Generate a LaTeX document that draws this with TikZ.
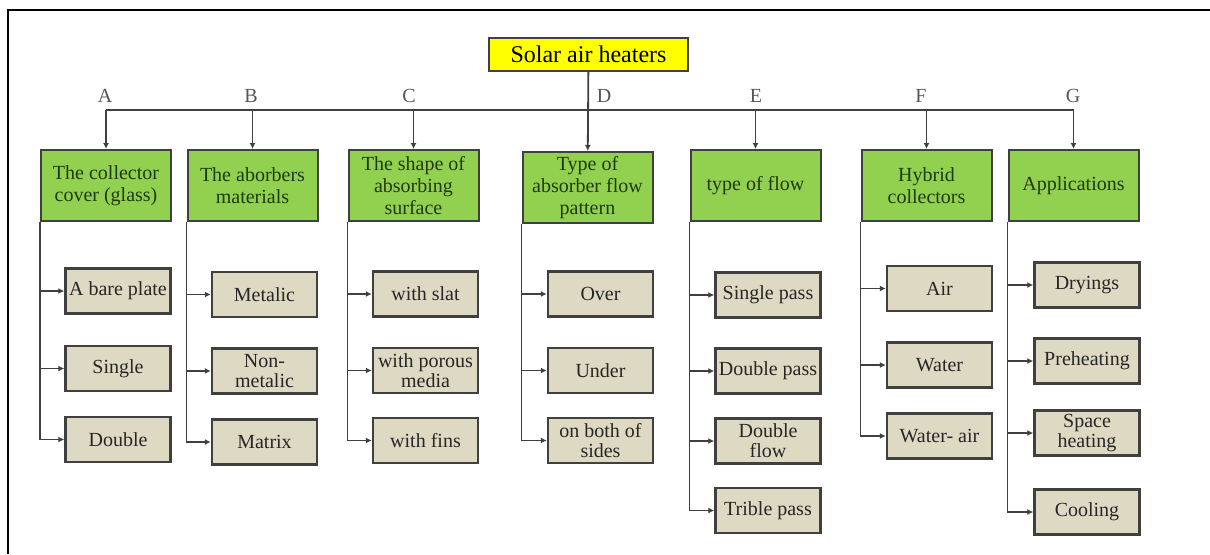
\documentclass[tikz,border=0pt]{standalone}
\usepackage{fontspec}
\setmainfont{LiberationSerif}[
    Extension=.ttf,
    UprightFont=*-Regular,
    BoldFont=*-Bold,
    ItalicFont=*-Italic,
    BoldItalicFont=*-BoldItalic]
\usetikzlibrary{arrows.meta}
\usepackage{xcolor}
\definecolor{sahyellow}{HTML}{FFFF00}
\definecolor{sahgreen}{HTML}{92D050}
\definecolor{sahbeige}{HTML}{DDD9C3}
\definecolor{sahline}{HTML}{404040}
\definecolor{sahtext}{HTML}{1F3A0E}
\definecolor{sahgray}{HTML}{555555}

\begin{document}
\begin{tikzpicture}[
    x=0.5pt, y=-0.5pt,
    rootbox/.style={
        rectangle,
        minimum width=99.5pt,
        minimum height=16.5pt,
        draw=sahline,
        line width=1pt,
        fill=sahyellow,
        inner sep=1pt,
        font=\fontsize{12}{13}\selectfont
    },
    category/.style={
        rectangle,
        minimum width=65pt,
        minimum height=35.5pt,
        draw=sahline,
        line width=1pt,
        fill=sahgreen,
        text=sahtext,
        align=center,
        inner sep=1pt,
        font=\fontsize{10}{11}\selectfont
    },
    subbox/.style={
        rectangle,
        minimum width=52.5pt,
        minimum height=22.5pt,
        draw=sahline,
        line width=1.2pt,
        fill=sahbeige,
        text=black!85,
        align=center,
        inner sep=1pt,
        font=\fontsize{10}{10}\selectfont
    },
    letter/.style={
        text=sahgray,
        font=\fontsize{10}{11}\selectfont
    },
    link/.style={
        draw=sahline,
        line width=0.9pt
    },
    arrow/.style={
        -{Latex[length=3pt,width=3pt]},
        link
    }
]

\useasboundingbox (0,0) rectangle (1210,554);

% Frame
\draw[line width=1pt] (8,554) -- (8,10) -- (1210,10);

% Root
\node[rootbox] (root) at (588.5,54.5) {Solar air heaters};

% Categories
\node[category] (catA) at (106,185.5) {The collector\\cover (glass)};
\node[category] (catB) at (252.5,185.5) {The aborbers\\materials};
\node[category] (catC) at (413.5,185.5) {The shape of\\absorbing\\surface};
\node[category] (catD) at (587.5,187.5) {Type of\\absorber flow\\pattern};
\node[category] (catE) at (755.5,185.5) {type of flow};
\node[category] (catF) at (926.5,185.5) {Hybrid\\collectors};
\node[category] (catG) at (1073.5,185.5) {Applications};

% Letters
\node[letter] (labA) at (105,96) {A};
\node[letter] (labB) at (251,96) {B};
\node[letter] (labC) at (409,96) {C};
\node[letter] (labD) at (604,96) {D};
\node[letter] (labE) at (756,96) {E};
\node[letter] (labF) at (921,96) {F};
\node[letter] (labG) at (1073,96) {G};

% Bus
\coordinate (bus) at (0,110);
\draw[link] (catA.north |- bus) -- (catG.north |- bus);
\draw[arrow] (root) -- (catD);
\draw[arrow] (catA.north |- bus) -- (catA.north);
\draw[arrow] (catB.north |- bus) -- (catB.north);
\draw[arrow] (catC.north |- bus) -- (catC.north);
\draw[arrow] (catE.north |- bus) -- (catE.north);
\draw[arrow] (catF.north |- bus) -- (catF.north);
\draw[arrow] (catG.north |- bus) -- (catG.north);

% A
\node[subbox] (a1) at (118,291) {A bare plate};
\node[subbox] (a2) at (118,368.5) {Single};
\node[subbox] (a3) at (118,439.5) {Double};

% B
\node[subbox] (b1) at (264.5,294.5) {Metalic};
\node[subbox] (b2) at (264.5,371) {Non-\\metalic};
\node[subbox] (b3) at (264.5,442) {Matrix};

% C
\node[subbox] (c1) at (425.5,294) {with slat};
\node[subbox] (c2) at (425.5,370.5) {with porous\\media};
\node[subbox] (c3) at (425.5,440.5) {with fins};

% D
\node[subbox] (d1) at (600.5,294) {Over};
\node[subbox] (d2) at (600.5,370.5) {Under};
\node[subbox] (d3) at (600.5,440.5) {on both of\\sides};

% E
\node[subbox] (e1) at (768,295) {Single pass};
\node[subbox] (e2) at (768,371) {Double pass};
\node[subbox] (e3) at (768,441) {Double\\flow};
\node[subbox] (e4) at (768,510.5) {Trible pass};

% F
\node[subbox] (f1) at (939.5,288.5) {Air};
\node[subbox] (f2) at (939.5,365) {Water};
\node[subbox] (f3) at (939.5,436) {Water- air};

% G
\node[subbox] (g1) at (1087,285) {Dryings};
\node[subbox] (g2) at (1087,361) {Preheating};
\node[subbox] (g3) at (1087,433) {Space\\heating};
\node[subbox] (g4) at (1087,512) {Cooling};

% Branches
\draw[arrow] (catA.south west) |- (a1.west);
\draw[arrow] (catA.south west) |- (a2.west);
\draw[arrow] (catA.south west) |- (a3.west);

\draw[arrow] (catB.south west) |- (b1.west);
\draw[arrow] (catB.south west) |- (b2.west);
\draw[arrow] (catB.south west) |- (b3.west);

\draw[arrow] (catC.south west) |- (c1.west);
\draw[arrow] (catC.south west) |- (c2.west);
\draw[arrow] (catC.south west) |- (c3.west);

\draw[arrow] (catD.south west) |- (d1.west);
\draw[arrow] (catD.south west) |- (d2.west);
\draw[arrow] (catD.south west) |- (d3.west);

\draw[arrow] (catE.south west) |- (e1.west);
\draw[arrow] (catE.south west) |- (e2.west);
\draw[arrow] (catE.south west) |- (e3.west);
\draw[arrow] (catE.south west) |- (e4.west);

\draw[arrow] (catF.south west) |- (f1.west);
\draw[arrow] (catF.south west) |- (f2.west);
\draw[arrow] (catF.south west) |- (f3.west);

\draw[arrow] (catG.south west) |- (g1.west);
\draw[arrow] (catG.south west) |- (g2.west);
\draw[arrow] (catG.south west) |- (g3.west);
\draw[arrow] (catG.south west) |- (g4.west);

\end{tikzpicture}
\end{document}
